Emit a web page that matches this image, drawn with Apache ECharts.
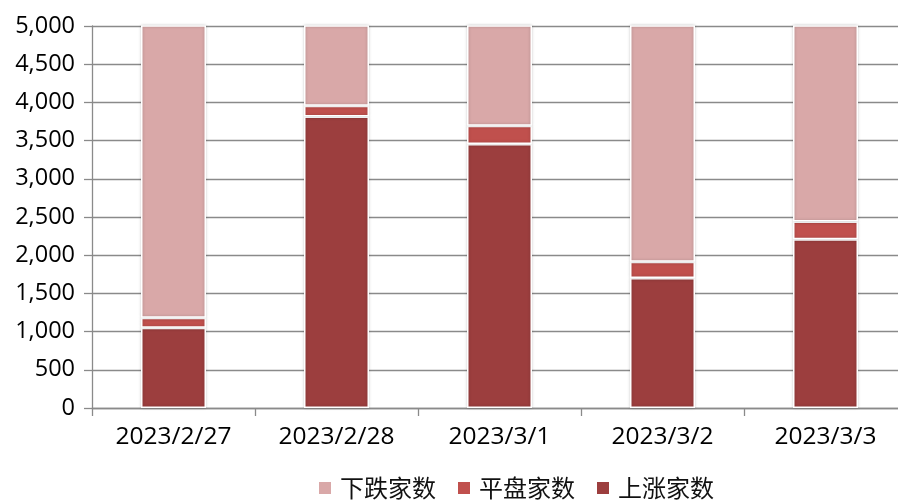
<!DOCTYPE html>
<html>
<head>
<meta charset="utf-8">
<script src="https://cdn.jsdelivr.net/npm/echarts@6/dist/echarts.min.js"></script>
<style>
  html, body { margin: 0; padding: 0; background: #fff; overflow: hidden; }
  #chart { width: 912px; height: 502px; }
</style>
</head>
<body>
<div id="chart"></div>
<script>
// Daily market breadth: advancing / unchanged / declining stock counts
const dates = ['2023/2/27', '2023/2/28', '2023/3/1', '2023/3/2', '2023/3/3'];
const upCounts = [1050, 3815, 3455, 1700, 2210];      // 上涨家数
const flatCounts = [130, 140, 240, 215, 230];          // 平盘家数
const downCounts = [3900, 1180, 1420, 3220, 2680];     // 下跌家数
const yTicks = { min: 0, max: 5000, interval: 500 };

const font = '"Open Sans", "Noto Sans CJK SC", sans-serif';
const axisGrey = '#8a8a8a';

const barStyle = (color) => ({
  color: color,
  borderColor: '#ffffff',
  borderWidth: 1.5,
  shadowColor: 'rgba(0,0,0,0.22)',
  shadowBlur: 3
});

// The plot runs a little past the right edge of the window, so the last
// column is slightly cut off.
const chart = echarts.init(document.getElementById('chart'), null, { renderer: 'canvas' });
chart.setOption({
  animation: false,
  backgroundColor: '#ffffff',
  textStyle: { fontFamily: font },
  grid: { left: 92, top: 26, width: 815, height: 382, containLabel: false },
  legend: {
    data: ['下跌家数', '平盘家数', '上涨家数'],
    left: 312,
    top: 471,
    itemWidth: 14,
    itemHeight: 14,
    itemGap: 20,
    icon: 'rect',
    textStyle: {
      fontSize: 24, color: '#111', padding: [0, 0, 0, 3],
      fontFamily: '"Noto Sans CJK SC", sans-serif'
    }
  },
  xAxis: {
    type: 'category',
    data: dates,
    axisLine: { lineStyle: { color: axisGrey, width: 1.3 } },
    axisTick: { show: true, length: 8, lineStyle: { color: axisGrey, width: 1.3 } },
    axisLabel: { fontSize: 24.5, color: '#000', margin: 17, fontFamily: font }
  },
  yAxis: {
    type: 'value',
    min: yTicks.min,
    max: yTicks.max,
    interval: yTicks.interval,
    axisLine: { show: true, lineStyle: { color: axisGrey, width: 1.3 } },
    axisTick: { show: true, length: 8, lineStyle: { color: axisGrey, width: 1.3 } },
    splitLine: { show: true, lineStyle: { color: axisGrey, width: 1.3 } },
    axisLabel: {
      fontSize: 23.5, color: '#000', margin: 17, fontFamily: font,
      formatter: (v) => v.toLocaleString('en-US')
    }
  },
  series: [
    {
      name: '上涨家数', type: 'bar', stack: 'total', barWidth: 65,
      data: upCounts, itemStyle: barStyle('#9c3e3e')
    },
    {
      name: '平盘家数', type: 'bar', stack: 'total', barWidth: 65,
      data: flatCounts, itemStyle: barStyle('#c0504d')
    },
    {
      name: '下跌家数', type: 'bar', stack: 'total', barWidth: 65,
      data: downCounts, itemStyle: barStyle('#d9a8a8')
    }
  ]
});
</script>
</body>
</html>
